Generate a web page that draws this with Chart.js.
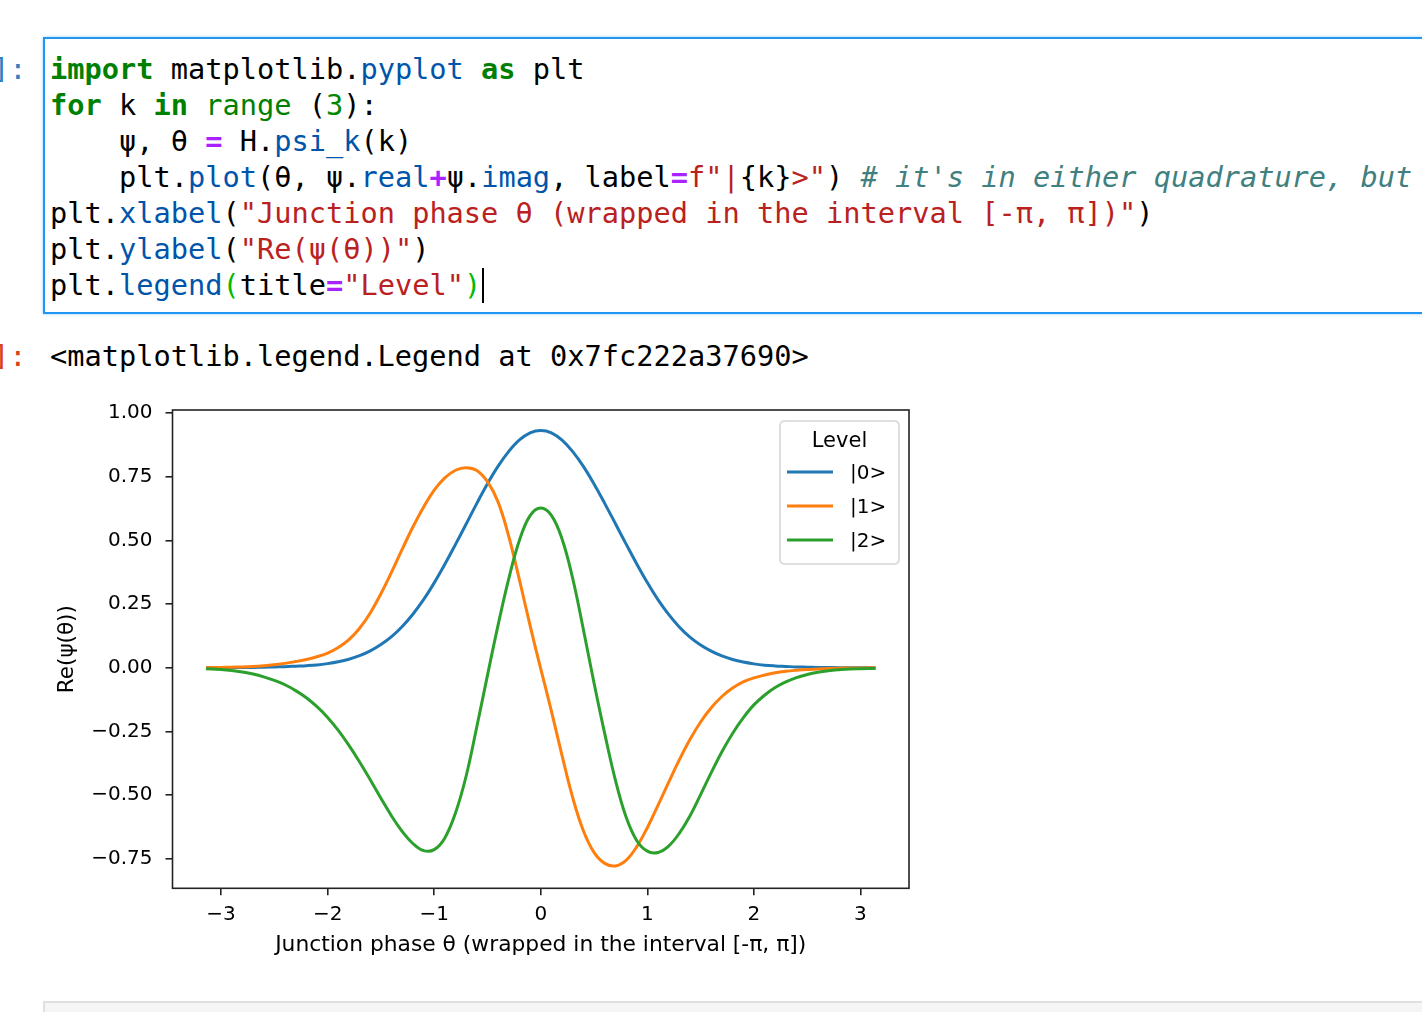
<!DOCTYPE html>
<html>
<head>
<meta charset="utf-8">
<script src="https://cdn.jsdelivr.net/npm/chart.js@4.4.1/dist/chart.umd.min.js"></script>
<style>
html,body{margin:0;padding:0;background:#fff;width:1422px;height:1012px;overflow:hidden;position:relative;}
.mono{font-family:"DejaVu Sans Mono",monospace;font-size:28.65px;line-height:36px;white-space:pre;position:absolute;color:#000;}
.cellbox{position:absolute;left:43px;top:37px;width:1420px;height:273px;border:2px solid #2196F3;box-shadow:0 0 3px rgba(33,150,243,0.45);background:#fff;}
.nextcell{position:absolute;left:43px;top:1001px;width:1420px;height:40px;border:2px solid #e0e0e0;background:#f5f5f5;}
.k{color:#008000;font-weight:bold;}
.b{color:#008000;}
.n{color:#008800;}
.p{color:#0055aa;}
.o{color:#aa22ff;font-weight:bold;}
.s{color:#ba2121;}
.c{color:#408080;font-style:italic;}
.mb{color:#00bb00;}
.cursor{position:absolute;left:482px;top:268px;width:2px;height:35px;background:#000;}
#chartwrap{position:absolute;left:40px;top:385px;width:900px;height:610px;}
</style>
</head>
<body>
<div class="mono" style="left:-8px;top:51px;color:#307fc1;">]:</div>
<div class="cellbox"></div>
<div class="mono" style="left:50px;top:51px;"><span class="k">import</span> matplotlib.<span class="p">pyplot</span> <span class="k">as</span> plt
<span class="k">for</span> k <span class="k">in</span> <span class="b">range</span> (<span class="n">3</span>):
    ψ, θ <span class="o">=</span> H.<span class="p">psi_k</span>(k)
    plt.<span class="p">plot</span>(θ, ψ.<span class="p">real</span><span class="o">+</span>ψ.<span class="p">imag</span>, label<span class="o">=</span><span class="s">f"|</span>{k}<span class="s">&gt;"</span>) <span class="c"># it's in either quadrature, but</span>
plt.<span class="p">xlabel</span>(<span class="s">"Junction phase θ (wrapped in the interval [-π, π])"</span>)
plt.<span class="p">ylabel</span>(<span class="s">"Re(ψ(θ))"</span>)
plt.<span class="p">legend</span><span class="mb">(</span>title<span class="o">=</span><span class="s">"Level"</span><span class="mb">)</span></div>
<div class="cursor"></div>
<div class="mono" style="left:-8px;top:338px;color:#d84315;">]:</div>
<div class="mono" style="left:50px;top:338px;">&lt;matplotlib.legend.Legend at 0x7fc222a37690&gt;</div>
<div id="chartwrap"><canvas id="c" width="900" height="610" style="width:900px;height:610px;"></canvas></div>
<div class="nextcell"></div>
<script>
// ---- data ----
const theta = [-3.1416, -3.0, -2.9, -2.8, -2.7, -2.6, -2.5, -2.4, -2.3, -2.2, -2.1, -2.0, -1.9, -1.8, -1.7, -1.6, -1.5, -1.4, -1.3, -1.2, -1.1, -1.0, -0.9, -0.8, -0.7, -0.6, -0.5, -0.4, -0.3, -0.2, -0.1, 0.0, 0.1, 0.2, 0.3, 0.4, 0.5, 0.6, 0.7, 0.8, 0.9, 1.0, 1.1, 1.2, 1.3, 1.4, 1.5, 1.6, 1.7, 1.8, 1.9, 2.0, 2.1, 2.2, 2.3, 2.4, 2.5, 2.6, 2.7, 2.8, 2.9, 3.0, 3.1416];
const psi0 = [0.000, 0.000, 0.000, 0.001, 0.001, 0.002, 0.003, 0.004, 0.006, 0.008, 0.011, 0.016, 0.023, 0.033, 0.047, 0.066, 0.091, 0.122, 0.162, 0.210, 0.267, 0.333, 0.406, 0.484, 0.564, 0.645, 0.722, 0.791, 0.849, 0.894, 0.922, 0.931, 0.922, 0.893, 0.848, 0.790, 0.721, 0.645, 0.566, 0.486, 0.408, 0.334, 0.267, 0.209, 0.160, 0.120, 0.089, 0.065, 0.046, 0.032, 0.022, 0.015, 0.010, 0.007, 0.005, 0.003, 0.002, 0.001, 0.001, 0.000, 0.000, 0.000, 0.000];
const psi1 = [0.000, 0.001, 0.002, 0.003, 0.005, 0.008, 0.012, 0.017, 0.024, 0.032, 0.043, 0.057, 0.079, 0.110, 0.155, 0.215, 0.290, 0.375, 0.465, 0.552, 0.630, 0.697, 0.745, 0.775, 0.785, 0.774, 0.730, 0.650, 0.515, 0.345, 0.165, -0.005, -0.170, -0.345, -0.510, -0.640, -0.725, -0.768, -0.778, -0.756, -0.703, -0.628, -0.540, -0.450, -0.362, -0.282, -0.213, -0.157, -0.113, -0.080, -0.056, -0.040, -0.029, -0.020, -0.014, -0.010, -0.007, -0.005, -0.003, -0.002, -0.001, -0.001, 0.000];
const psi2 = [-0.004, -0.007, -0.011, -0.017, -0.025, -0.036, -0.050, -0.067, -0.090, -0.118, -0.153, -0.195, -0.246, -0.305, -0.370, -0.440, -0.512, -0.582, -0.643, -0.690, -0.718, -0.714, -0.668, -0.570, -0.425, -0.232, -0.030, 0.168, 0.350, 0.500, 0.597, 0.627, 0.598, 0.505, 0.350, 0.150, -0.060, -0.258, -0.440, -0.585, -0.678, -0.720, -0.725, -0.700, -0.650, -0.582, -0.498, -0.412, -0.330, -0.258, -0.197, -0.146, -0.108, -0.078, -0.056, -0.039, -0.027, -0.018, -0.012, -0.008, -0.005, -0.004, -0.003];
const seriesLabels = ['|0>', '|1>', '|2>'];
const seriesColors = ['#1f77b4', '#ff7f0e', '#2ca02c'];
const xTicks = [-3, -2, -1, 0, 1, 2, 3];
const xTickLabels = ['\u22123', '\u22122', '\u22121', '0', '1', '2', '3'];
const yTicks = [-0.75, -0.5, -0.25, 0, 0.25, 0.5, 0.75, 1.0];
const yTickLabels = ['\u22120.75', '\u22120.50', '\u22120.25', '0.00', '0.25', '0.50', '0.75', '1.00'];
const xRange = [-3.4558, 3.4558];
const yRange = [-0.8658, 1.0114];
const legendTitle = 'Level';
const xTitle = 'Junction phase \u03b8 (wrapped in the interval [-\u03c0, \u03c0])';
const yTitle = 'Re(\u03c8(\u03b8))';

const FONT = "'DejaVu Sans', sans-serif";
Chart.defaults.font.family = FONT;
Chart.defaults.color = '#000';

const framePlugin = {
  id: 'frame',
  afterDraw(chart) {
    const {ctx, chartArea: a} = chart;
    ctx.save();
    ctx.strokeStyle = '#222';
    ctx.lineWidth = 1.6;
    ctx.strokeRect(a.left, a.top, a.right - a.left, a.bottom - a.top);
    ctx.restore();
  }
};

const legendPlugin = {
  id: 'mplLegend',
  afterDraw(chart) {
    const {ctx, chartArea: a} = chart;
    const w = 119, h = 143;
    const x = a.right - 10 - w, y = a.top + 11;
    const r = 5;
    ctx.save();
    ctx.beginPath();
    ctx.moveTo(x + r, y);
    ctx.lineTo(x + w - r, y); ctx.quadraticCurveTo(x + w, y, x + w, y + r);
    ctx.lineTo(x + w, y + h - r); ctx.quadraticCurveTo(x + w, y + h, x + w - r, y + h);
    ctx.lineTo(x + r, y + h); ctx.quadraticCurveTo(x, y + h, x, y + h - r);
    ctx.lineTo(x, y + r); ctx.quadraticCurveTo(x, y, x + r, y);
    ctx.closePath();
    ctx.fillStyle = 'rgba(255,255,255,0.8)';
    ctx.fill();
    ctx.strokeStyle = '#d6d6d6';
    ctx.lineWidth = 1.6;
    ctx.stroke();
    ctx.fillStyle = '#000';
    ctx.font = '21px ' + FONT;
    ctx.textAlign = 'center';
    ctx.textBaseline = 'middle';
    ctx.fillText(legendTitle, x + w / 2, y + 21);
    chart.data.datasets.forEach((ds, i) => {
      const yy = y + 51 + 34 * i;
      ctx.strokeStyle = ds.borderColor;
      ctx.lineWidth = 3;
      ctx.beginPath();
      ctx.moveTo(x + 7, yy);
      ctx.lineTo(x + 53, yy);
      ctx.stroke();
      ctx.fillStyle = '#000';
      ctx.font = '20px ' + FONT;
      ctx.textAlign = 'left';
      ctx.fillText(ds.label, x + 70, yy + 2);
    });
    ctx.restore();
  }
};

const series = [psi0, psi1, psi2];
new Chart(document.getElementById('c'), {
  type: 'line',
  data: {
    datasets: series.map((s, k) => ({
      label: seriesLabels[k],
      data: theta.map((t, i) => ({x: t, y: s[i]})),
      borderColor: seriesColors[k],
      backgroundColor: seriesColors[k],
      borderWidth: 3,
      pointRadius: 0,
      tension: 0.4,
      fill: false,
      order: 2 - k
    }))
  },
  options: {
    responsive: false,
    animation: false,
    layout: {padding: {left: 0, top: 15, right: 31, bottom: 0}},
    plugins: {legend: {display: false}, tooltip: {enabled: false}},
    scales: {
      x: {
        type: 'linear',
        min: xRange[0], max: xRange[1],
        afterBuildTicks: s => { s.ticks = xTicks.map(v => ({value: v})); },
        afterFit: s => { s.height = 106.7; },
        ticks: {callback: (v, i) => xTickLabels[i], font: {size: 20}, padding: 7, autoSkip: false, maxRotation: 0, color: '#000'},
        grid: {drawOnChartArea: false, drawTicks: true, tickLength: 7, color: '#222', lineWidth: 1.6},
        border: {display: false},
        title: {display: true, text: xTitle, font: {size: 21.8}, color: '#000', padding: {top: 0, bottom: 37}}
      },
      y: {
        type: 'linear',
        min: yRange[0], max: yRange[1],
        afterBuildTicks: s => { s.ticks = yTicks.map(v => ({value: v})); },
        afterFit: s => { s.width = 132.5; },
        ticks: {callback: (v, i) => yTickLabels[i], font: {size: 20}, padding: 13, autoSkip: false, color: '#000'},
        grid: {drawOnChartArea: false, drawTicks: true, tickLength: 7, color: '#222', lineWidth: 1.6},
        border: {display: false},
        title: {display: true, text: yTitle, font: {size: 21.5}, color: '#000', padding: {top: 15, bottom: 0}}
      }
    }
  },
  plugins: [framePlugin, legendPlugin]
});
</script>
</body>
</html>
